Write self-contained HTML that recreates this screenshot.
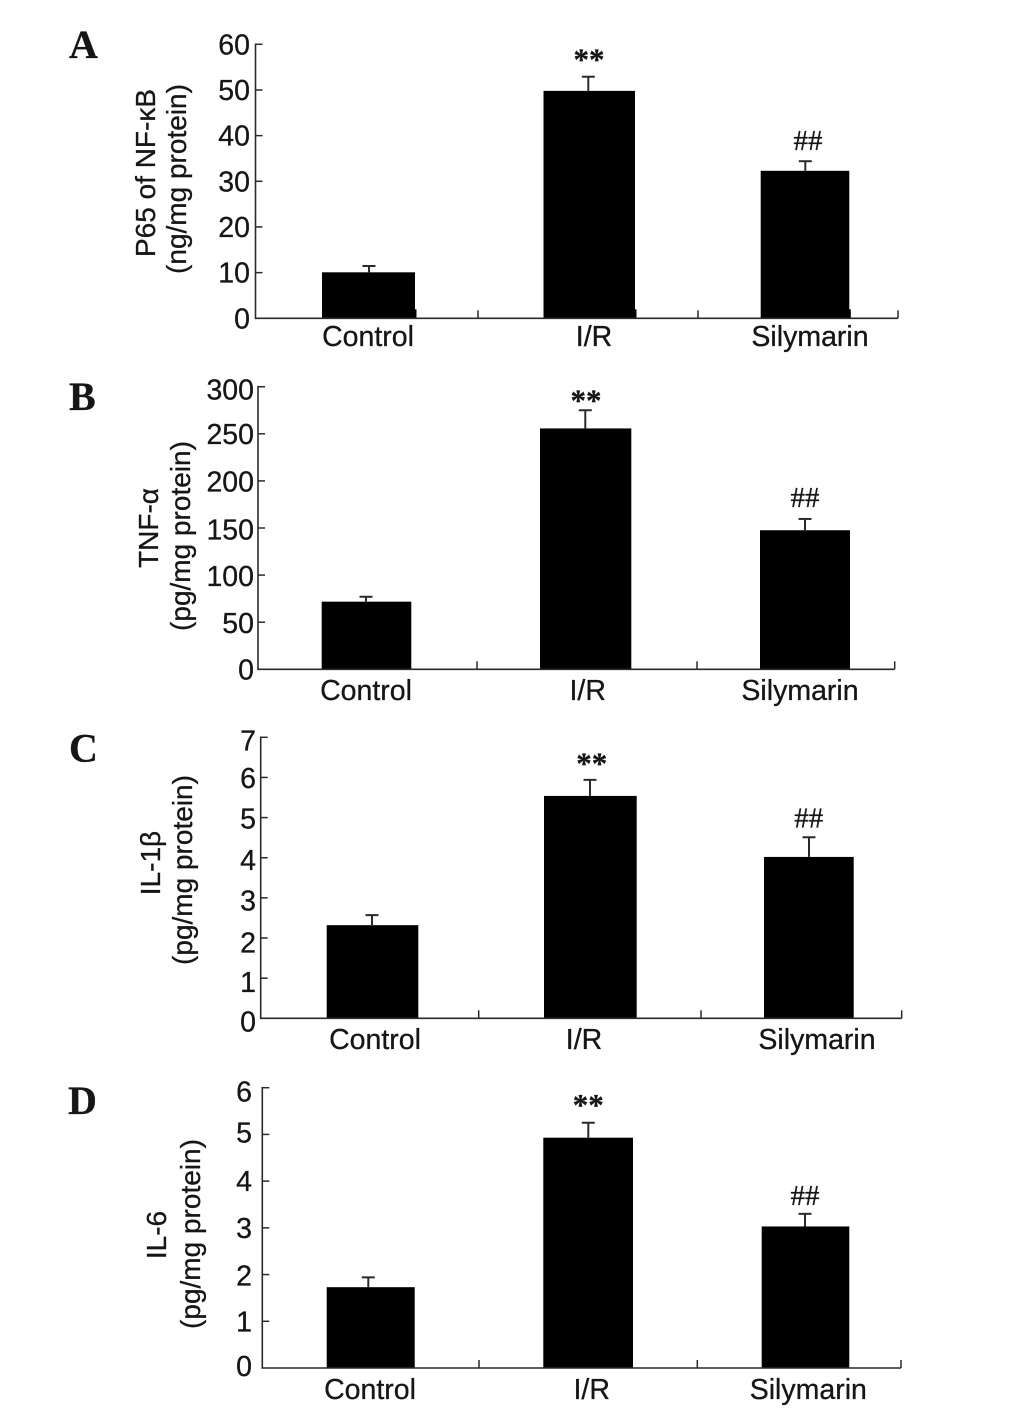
<!DOCTYPE html>
<html lang="en">
<head>
<meta charset="utf-8">
<title>NF-κB and cytokine levels by treatment group</title>
<style>
html,body{margin:0;padding:0;background:#fff;width:1034px;height:1425px;overflow:hidden}
svg{display:block}
text{fill:#161616;stroke:#161616;stroke-width:.3px}
.sans{font-family:"Liberation Sans",Arial,sans-serif;font-size:28.5px}
.title{font-size:28px}
.serif{font-family:"Liberation Serif","Times New Roman",serif}
</style>
</head>
<body>
<svg id="figure" xmlns="http://www.w3.org/2000/svg" width="1034" height="1425" viewBox="0 0 1034 1425"></svg>
<script>
// ---- chart data ----
const categories = ['Control', 'I/R', 'Silymarin'];

const ticksA = [0, 10, 20, 30, 40, 50, 60];
const valuesA = [10.07, 49.8, 32.3];
const errorTopsA = [11.45, 52.9, 34.4];

const ticksB = [0, 50, 100, 150, 200, 250, 300];
const valuesB = [71.8, 255.7, 147.6];
const errorTopsB = [77, 275, 159.6];

const ticksC = [0, 1, 2, 3, 4, 5, 6, 7];
const valuesC = [2.32, 5.54, 4.02];
const errorTopsC = [2.57, 5.94, 4.51];

const ticksD = [0, 1, 2, 3, 4, 5, 6];
const valuesD = [1.73, 4.93, 3.03];
const errorTopsD = [1.94, 5.25, 3.30];

const significance = ['', '**', '##'];

// ---- panel layout (geometry only, no data) ----
const panels = [
  {id:'a', letter:'A', letterX:69, letterY:58, ticks:ticksA, values:valuesA, errs:errorTopsA,
   axisX:255.5, y0:318.3, yTop:44.3, labelRight:250, xEnd:898, sep:[478,698],
   bars:[[322,415,369],[543.5,635,588.3],[760.7,849.3,805.3]],
   catX:[368,594,810], catY:346, noteX:[0,589,808], noteGap:[0,7,11],
   nudge:[0,0,0,0,0,0,0], foot:1.5,
   title:[['P65 of NF-κB',155,173],['(ng/mg protein)',186,179]]},
  {id:'b', letter:'B', letterX:69, letterY:410, ticks:ticksB, values:valuesB, errs:errorTopsB,
   axisX:258, y0:669.3, yTop:386.7, labelRight:254, xEnd:894.7, sep:[477,697],
   bars:[[321.7,411.3,366],[540,631.3,585.3],[760,850,805]],
   catX:[366,587.7,800], catY:700, noteX:[0,586,805], noteGap:[0,0,12],
   nudge:[0,1,0.7,1.3,0.7,0,2.7], foot:0,
   title:[['TNF-α',158,528],['(pg/mg protein)',190,536]]},
  {id:'c', letter:'C', letterX:69, letterY:761.5, ticks:ticksC, values:valuesC, errs:errorTopsC,
   axisX:260.7, y0:1018.3, yTop:737.3, labelRight:256, xEnd:901.7, sep:[478.7,701],
   bars:[[326.7,418.3,372],[544,636.7,590],[764,853.7,809]],
   catX:[375,584,817], catY:1049, noteX:[0,591.7,808.7], noteGap:[0,6.5,10],
   nudge:[3.3,4,4.7,2.7,2.3,1,0.7,3.3], foot:0,
   title:[['IL-1β',160,863],['(pg/mg protein)',192,870]]},
  {id:'d', letter:'D', letterX:68, letterY:1114, ticks:ticksD, values:valuesD, errs:errorTopsD,
   axisX:262.3, y0:1368, yTop:1087.7, labelRight:252, xEnd:901, sep:[479,697.3],
   bars:[[326.7,414.7,368.3],[543.3,633,588.3],[761.7,849.3,805]],
   catX:[370,591.7,808.3], catY:1399, noteX:[0,588.3,805], noteGap:[0,7.5,9],
   nudge:[-2,0,1,0,0,-2,4], foot:0,
   title:[['IL-6',166,1235],['(pg/mg protein)',200,1234]]}
];

const SVG_NS = 'http://www.w3.org/2000/svg';
const root = document.getElementById('figure');
const INK = '#2a2a2a';

function line(parent, name, x1, y1, x2, y2, width) {
  const el = document.createElementNS(SVG_NS, 'line');
  
  
  el.setAttribute('x1', x1);
  el.setAttribute('y1', y1);
  el.setAttribute('x2', x2);
  el.setAttribute('y2', y2);
  el.setAttribute('stroke', INK);
  el.setAttribute('stroke-width', width);
  parent.appendChild(el);
  return el;
}

function rect(parent, name, x, y, w, h) {
  const el = document.createElementNS(SVG_NS, 'rect');
  
  
  el.setAttribute('x', x);
  el.setAttribute('y', y);
  el.setAttribute('width', w);
  el.setAttribute('height', h);
  el.setAttribute('fill', '#000');
  parent.appendChild(el);
  return el;
}

function label(parent, name, str, x, y, anchor, cls) {
  const el = document.createElementNS(SVG_NS, 'text');
  
  
  el.setAttribute('x', x);
  el.setAttribute('y', y);
  el.setAttribute('text-anchor', anchor);
  el.setAttribute('class', cls);
  el.textContent = str;
  parent.appendChild(el);
  return el;
}

function drawPanel(p) {
  const g = document.createElementNS(SVG_NS, 'g');
  
  
  root.appendChild(g);

  const maxTick = p.ticks[p.ticks.length - 1];
  const yScale = v => p.y0 - (v / maxTick) * (p.y0 - p.yTop);

  const letter = label(g, 'panel-letter-' + p.id, p.letter, p.letterX, p.letterY, 'start', 'serif');
  letter.setAttribute('font-size', '40');
  letter.setAttribute('font-weight', 'bold');

  // y title
  p.title.forEach((t, i) => {
    const el = label(g, 'y-axis-title-' + p.id + '-line-' + (i + 1), t[0], t[1], t[2], 'middle', 'sans title');
    el.setAttribute('transform', 'rotate(-90 ' + t[1] + ' ' + t[2] + ')');
  });

  // bars first so axis sits at their foot
  p.values.forEach((v, i) => {
    const b = p.bars[i];
    const top = yScale(v);
    rect(g, 'bar-' + p.id + '-' + categories[i].toLowerCase().replace('/', ''), b[0], top, b[1] - b[0], p.y0 - top + 0.5);
    if (p.foot) {
      rect(g, 'bar-foot-' + p.id + '-' + i, b[0] + p.foot, p.y0 - 9, b[1] - b[0], 9.5);
    }
    const errY = yScale(p.errs[i]);
    line(g, 'error-stem-' + p.id + '-' + i, b[2], top, b[2], errY, 2);
    line(g, 'error-cap-' + p.id + '-' + i, b[2] - 6.5, errY, b[2] + 6.5, errY, 2);
    if (significance[i]) {
      const note = label(g, 'significance-' + p.id + '-' + i, significance[i], p.noteX[i], errY - p.noteGap[i], 'middle', 'serif');
      note.setAttribute('font-size', i === 1 ? '31' : '29');
      if (i === 1) note.setAttribute('font-weight', 'bold');
    }
  });

  // axes
  line(g, 'y-axis-' + p.id, p.axisX, p.yTop - 0.8, p.axisX, p.y0 + 0.8, 1.6);
  line(g, 'x-axis-' + p.id, p.axisX, p.y0, p.xEnd, p.y0, 1.6);
  p.sep.concat([p.xEnd]).forEach((x, i) => {
    line(g, 'x-tick-' + p.id + '-' + i, x, p.y0, x, p.y0 - 8, 1.5);
  });
  p.ticks.forEach((t, i) => {
    const y = yScale(t);
    if (i > 0) line(g, 'y-tick-' + p.id + '-' + t, p.axisX, y, p.axisX + 7, y, 1.5);
    label(g, 'y-tick-label-' + p.id + '-' + t, String(t), p.labelRight, y + 10 + p.nudge[i], 'end', 'sans');
  });

  // categories
  categories.forEach((c, i) => {
    label(g, 'x-label-' + p.id + '-' + i, c, p.catX[i], p.catY, 'middle', 'sans');
  });
}

panels.forEach(drawPanel);
</script>
</body>
</html>
